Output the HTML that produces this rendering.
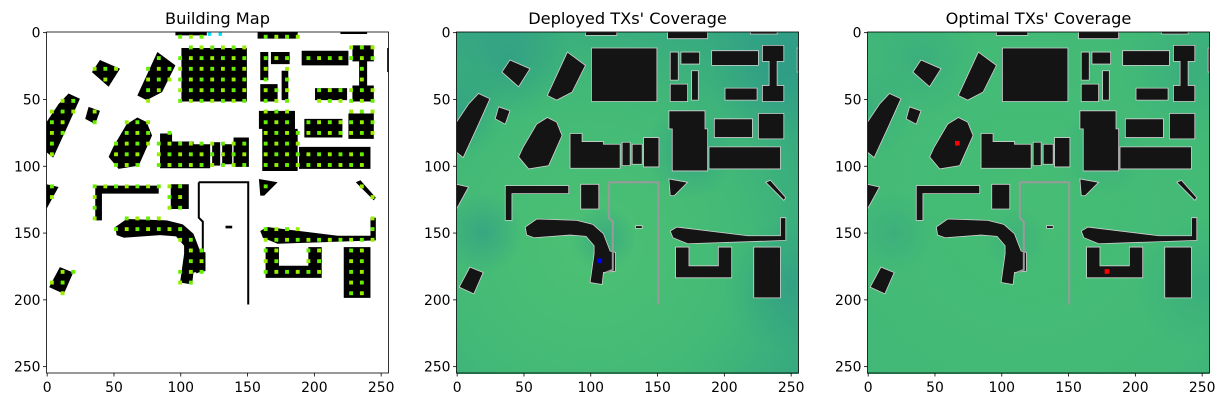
<!DOCTYPE html>
<html><head><meta charset="utf-8"><style>
html,body{margin:0;padding:0;background:#fff;}
svg{display:block;font-family:"DejaVu Sans","Liberation Sans",sans-serif;}
</style></head><body>
<svg id="fig" width="1224" height="407" viewBox="0 0 1224 407" xmlns="http://www.w3.org/2000/svg">
<defs>
<radialGradient id="g2" gradientUnits="userSpaceOnUse" cx="100" cy="160" r="210">
<stop offset="0" stop-color="#4cc173"/><stop offset="0.55" stop-color="#42b977"/><stop offset="1" stop-color="#32a284"/></radialGradient>
<radialGradient id="g3" gradientUnits="userSpaceOnUse" cx="120" cy="130" r="230">
<stop offset="0" stop-color="#46bd74"/><stop offset="0.7" stop-color="#42b977"/><stop offset="1" stop-color="#3aac80"/></radialGradient>
<radialGradient id="tealfade"><stop offset="0" stop-color="#2a9689" stop-opacity="1"/><stop offset="1" stop-color="#2a9689" stop-opacity="0"/></radialGradient>
</defs>
</svg>
<script>
const panelTitles = ["Building Map", "Deployed TXs' Coverage", "Optimal TXs' Coverage"];
const panelLefts = [46.5, 456.5, 867.5];
const tickValues = [0, 50, 100, 150, 200, 250];
const deployedTX = [[107, 171]];
const optimalTX = [[67, 83], [179, 179]];
const buildings = [
[[101,12],[150,12],[150,52],[101,52]],
[[160,15],[166,15],[166,36],[160,36]],
[[168,15],[182,15],[182,24],[168,24]],
[[176,29],[181,29],[181,51],[176,51]],
[[160,39],[173,39],[173,52],[160,52]],
[[191,14],[226,14],[226,25],[191,25]],
[[229,10],[245,10],[245,22],[240,22],[240,40],[245,40],[245,52],[229,52],[229,40],[234,40],[234,22],[229,22]],
[[201,42],[225,42],[225,51],[201,51]],
[[83,15],[96.5,25],[86.5,45],[75,51],[68,47.5]],
[[40,21],[55,27.5],[46.5,41],[34,30]],
[[16.5,46],[25,50],[16.5,69],[5,94],[0,90],[0,67.5],[9,54]],
[[31.5,56],[40,59],[36.5,69],[29,65]],
[[68,64],[75,67.5],[79,77.5],[69,100],[54,102.5],[46.5,93.5],[50,86],[60,69]],
[[85,76],[94,76],[94,82],[110,82],[110,84],[122.5,84],[122.5,102],[85,102]],
[[124,82.5],[130,82.5],[130,100],[124,100]],
[[131.5,84],[139,84],[139,99],[131.5,99]],
[[140,79],[151.5,79],[151.5,101],[140,101]],
[[159,59],[186,59],[186,72.5],[188,72.5],[188,104],[161.5,104],[161.5,72.5],[159,72.5]],
[[193,65],[221.5,65],[221.5,79],[193,79]],
[[226,61],[245,61],[245,80],[226,80]],
[[189,86],[242.5,86],[242.5,102.5],[189,102.5]],
[[0,114],[9,116],[0,132.5]],
[[36.5,115],[84,115],[84,121],[41.5,121],[41.5,141],[36.5,141]],
[[93,114],[106.5,114],[106.5,132.5],[93,132.5]],
[[51.5,146],[60,140],[90,141],[102,144],[110,151],[115,164],[119,165],[119,179],[110,180],[109,189],[100,187.5],[103,166],[103,160],[97,153],[85,152],[58,154],[52.5,152]],
[[159,110],[173,112.5],[163,122.5],[160,122.5]],
[[231.5,112.5],[235,111],[246.5,124],[245,126]],
[[160,149],[165,146],[218,152.5],[242.5,152.5],[242.5,139],[246.5,139],[246.5,156],[173,158.5],[162,154]],
[[164,161],[174,161],[174,175],[196,175],[196,161],[206,161],[206,184],[164,184]],
[[222.5,161],[242.5,161],[242.5,199],[222.5,199]],
[[10,176],[20,180],[13,196],[2,191]],
[[96.5,0],[120,0],[120,2.5],[96.5,2.5]],
[[158,0],[188,0],[188,5],[158,5]],
[[220,0],[240,0],[240,1.5],[220,1.5]],
[[255,12],[256,12],[256,30],[255,30]],
[[134,145],[139,145],[139,147],[134,147]]
];
const walls = [
[[114,112.5],[151,112.5],[151,204]],
[[114,112.5],[114,139],[117,142],[117,178],[112,180]]
];
const tealSpots = [[40,20,45],[0,60,35],[240,30,50],[250,190,50],[175,90,35],[110,155,25],[20,150,30]];
const NS='http://www.w3.org/2000/svg';
const fig=document.getElementById('fig');
const S=342/256;
function mk(tag,attrs,parent){const e=document.createElementNS(NS,tag);for(const k in attrs)e.setAttribute(k,attrs[k]);(parent||fig).appendChild(e);return e;}
function inside(p,poly){let c=false;for(let i=0,j=poly.length-1;i<poly.length;j=i++){const a=poly[i],b=poly[j];if(((a[1]>p[1])!=(b[1]>p[1]))&&(p[0]<(b[0]-a[0])*(p[1]-a[1])/(b[1]-a[1])+a[0]))c=!c;}return c;}
panelLefts.forEach((L,pi)=>{
  const T=32;
  const g=mk('g',{transform:`translate(${L},${T}) scale(${S})`});
  
  
  const clip=mk('clipPath',{id:'c'+pi},g);mk('rect',{x:0,y:0,width:256,height:256},clip);
  const inner=mk('g',{'clip-path':`url(#c${pi})`},g);
  mk('rect',{x:0,y:0,width:256,height:256,fill:pi==0?'#fff':(pi==1?'url(#g2)':'url(#g3)')},inner);
  if(pi>0){
    tealSpots.forEach(t=>{const c=mk('circle',{cx:t[0],cy:t[1],r:t[2],fill:'url(#tealfade)',opacity:pi==1?0.55:0.3},inner);
      
      });
  }
  buildings.forEach(b=>{
    const p=mk('polygon',{points:b.map(q=>q.join(',')).join(' '),fill:pi==0?'#000':'#141414',stroke:pi==0?'none':'#d0d0d0','stroke-width':0.6},inner);
    
    
  });
  walls.forEach(w=>{
    const p=mk('polyline',{points:w.map(q=>q.join(',')).join(' '),fill:'none',stroke:pi==0?'#000':'#9a9a9a','stroke-width':1.5},inner);
    
    
  });
  if(pi==0){
    for(let y=3.5;y<256;y+=8)for(let x=4;x<256;x+=8){
      const hit=buildings.some(b=>inside([x,y],b)||inside([x+1.5,y],b)||inside([x-1.5,y],b)||inside([x,y+1.5],b)||inside([x,y-1.5],b));
      if(hit){const d=mk('rect',{x:x-1.4,y:y-1.4,width:2.9,height:2.9,fill:(x+y)%16<8?'#66ee00':'#99ee00'},inner);
        
        }
    }
    [[122,1.5],[130,1.5]].forEach(c=>{const d=mk('rect',{x:c[0]-1.2,y:c[1]-1.2,width:2.6,height:2.6,fill:'#00e5ff'},inner);
      
      });
  }
  const txs=pi==1?deployedTX:(pi==2?optimalTX:[]);
  txs.forEach(t=>{const d=mk('rect',{x:t[0]-1.5,y:t[1]-1.5,width:3.5,height:3.5,fill:pi==1?'#0000ff':'#ff0000'},inner);
    
    });
  const fr=mk('rect',{x:L,y:T,width:342,height:341,fill:'none',stroke:'#000','stroke-width':0.8});
  
  
  tickValues.forEach(v=>{
    const px=L+(v+0.5)*S, py=T+(v+0.5)*S;
    mk('line',{x1:px,y1:T+341,x2:px,y2:T+344.5,stroke:'#000','stroke-width':0.8});
    const tx=mk('text',{x:px,y:T+360,'text-anchor':'middle','font-size':13.9,fill:'#000'});tx.textContent=v;
    
    
    mk('line',{x1:L,y1:py,x2:L-3.5,y2:py,stroke:'#000','stroke-width':0.8});
    const ty=mk('text',{x:L-6,y:py+5,'text-anchor':'end','font-size':13.9,fill:'#000'});ty.textContent=v;
    
    
  });
  const tt=mk('text',{x:L+171,y:24,'text-anchor':'middle','font-size':16.2,fill:'#000'});tt.textContent=panelTitles[pi];
  
  
});
</script>
</body></html>
